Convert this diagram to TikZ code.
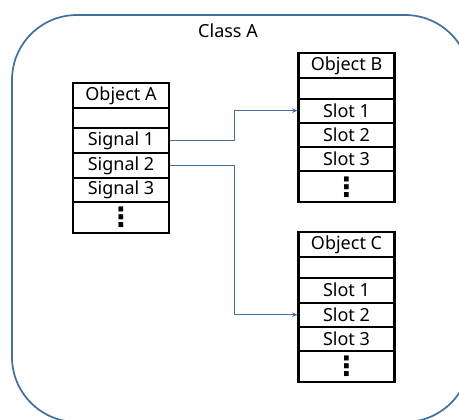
\documentclass[tikz,border=0pt]{standalone}
\usepackage{fontspec}
\setmainfont{Noto Sans}
\newfontfamily\dotsfont{DejaVu Sans}
\usetikzlibrary{arrows.meta}
\definecolor{frameblue}{HTML}{41719C}
\tikzset{
  cell/.style={draw=black, line width=1.6pt, minimum width=72pt, inner sep=0pt, font=\fontsize{13.5pt}{15pt}\selectfont, anchor=north},
  conn/.style={draw=frameblue, line width=0.8pt, -{Stealth[length=4pt,width=3.5pt]}},
  vdots/.style={font=\dotsfont\bfseries\fontsize{20pt}{20pt}\selectfont}
}
\begin{document}
\begin{tikzpicture}[x=0.75pt,y=-0.75pt]
\useasboundingbox (0,0) rectangle (459,419);
\draw[frameblue, line width=1.3pt, rounded corners=48.75pt] (12,15) rectangle (470,422);
\node[font=\fontsize{13.5pt}{15pt}\selectfont] (cls) at (228,31) {Class A};
% Object A
\node[cell, minimum height=18.75pt] (Ah) at (121,82) {Object A};
\node[cell, minimum height=15pt] (Ae) at (121,107) {};
\node[cell, minimum height=18.75pt] (A1) at (121,127) {Signal 1};
\node[cell, minimum height=18.75pt] (A2) at (121,152) {Signal 2};
\node[cell, minimum height=18pt] (A3) at (121,177) {Signal 3};
\node[cell, minimum height=23.25pt] (Ad) at (121,201) {};
\node[vdots] (Adt) at (Ad.center) {⋮};
% Object B
\node[cell, minimum height=18.75pt] (Bh) at (346.5,52) {Object B};
\node[cell, minimum height=15.5pt] (Be) at (346.5,77) {};
\node[cell, minimum height=18pt] (B1) at (346.5,97.5) {Slot 1};
\node[cell, minimum height=18.5pt] (B2) at (346.5,121.5) {Slot 2};
\node[cell, minimum height=18pt] (B3) at (346.5,146) {Slot 3};
\node[cell, minimum height=23.5pt] (Bd) at (346.5,170) {};
\node[vdots] (Bdt) at (Bd.center) {⋮};
% Object C
\node[cell, minimum height=18.75pt] (Ch) at (346.5,231) {Object C};
\node[cell, minimum height=15.5pt] (Ce) at (346.5,256) {};
\node[cell, minimum height=18.75pt] (C1) at (346.5,276.5) {Slot 1};
\node[cell, minimum height=18.25pt] (C2) at (346.5,301.5) {Slot 2};
\node[cell, minimum height=18pt] (C3) at (346.5,326) {Slot 3};
\node[cell, minimum height=23.25pt] (Cd) at (346.5,350) {};
\node[vdots] (Cdt) at (Cd.center) {⋮};
% connectors
\draw[conn] (A1.east) -- ++(64,0) |- (B1.west);
\draw[conn] (A2.east) -- ++(64,0) |- (C2.west);
\end{tikzpicture}
\end{document}
